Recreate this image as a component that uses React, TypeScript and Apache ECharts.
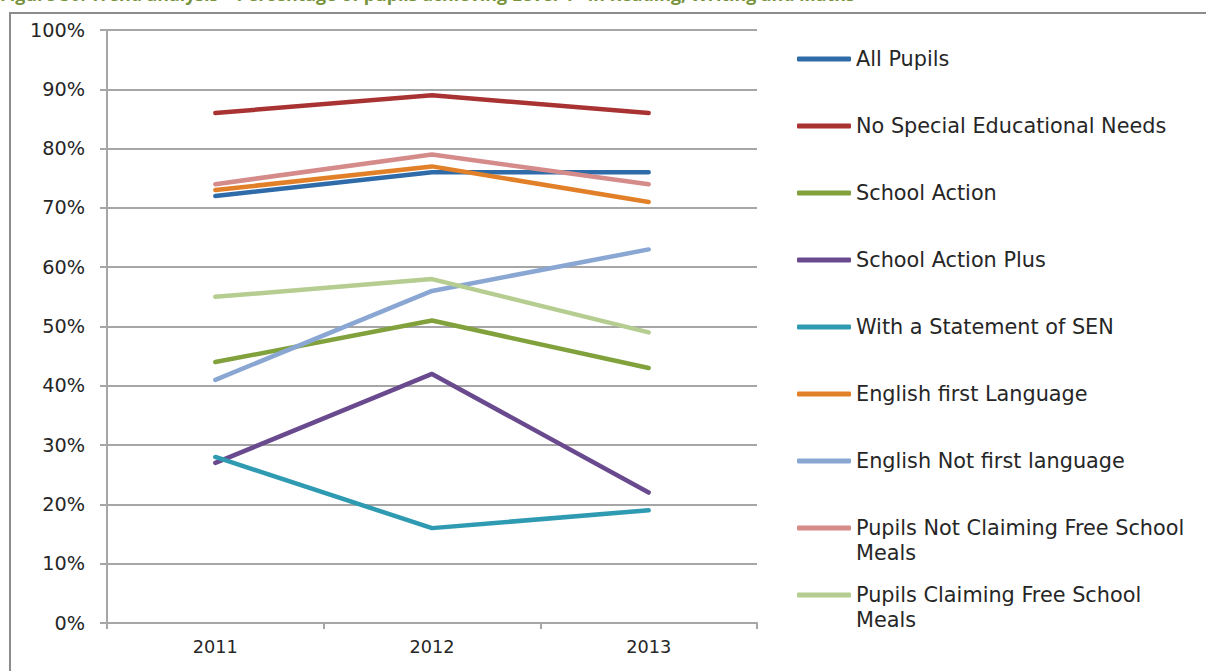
import React, { useEffect, useRef } from "react";
import * as echarts from "echarts";

const years = ["2011", "2012", "2013"];
const seriesNames = [
  "All Pupils",
  "No Special Educational Needs",
  "School Action",
  "School Action Plus",
  "With a Statement of SEN",
  "English first Language",
  "English Not first language",
  "Pupils Not Claiming Free School Meals",
  "Pupils Claiming Free School Meals",
];
const allPupils = [72, 76, 76];
const noSEN = [86, 89, 86];
const schoolAction = [44, 51, 43];
const schoolActionPlus = [27, 42, 22];
const statementSEN = [28, 16, 19];
const englishFirst = [73, 77, 71];
const englishNotFirst = [41, 56, 63];
const notFSM = [74, 79, 74];
const fsm = [55, 58, 49];
const yTicks = [0, 10, 20, 30, 40, 50, 60, 70, 80, 90, 100];

const seriesValues = [
  allPupils,
  noSEN,
  schoolAction,
  schoolActionPlus,
  statementSEN,
  englishFirst,
  englishNotFirst,
  notFSM,
  fsm,
];
const colors = [
  "#2F6BA8",
  "#A93333",
  "#80A13B",
  "#6A4A8E",
  "#2F9BB2",
  "#E2802A",
  "#8AA7D3",
  "#D48B8A",
  "#B6CD91",
];

const FONT = "'DejaVu Sans', sans-serif";

export default function App() {
  const ref = useRef<HTMLDivElement>(null);
  useEffect(() => {
    if (!ref.current) return;
    const chart = echarts.init(ref.current, undefined, { renderer: "svg" });

    const legendCenters = [59, 126, 193, 260, 327, 394, 461, 528, 595];
    const legends = seriesNames.map((name, i) => {
      const twoLine = name.startsWith("Pupils");
      return {
        show: true,
        orient: "vertical",
        left: 797,
        top: twoLine ? legendCenters[i] - 37.5 : legendCenters[i] - 12.5,
        padding: 0,
        icon: "roundRect",
        itemWidth: 54,
        itemHeight: 5,
        itemGap: 0,
        selectedMode: false,
        data: [name],
        formatter: (n: string) =>
          n.startsWith("Pupils") ? "\n" + n.replace(" Meals", "\nMeals") : n,
        textStyle: {
          fontFamily: FONT,
          fontSize: 20.8,
          lineHeight: 25,
          color: "#262626",
        },
      };
    });

    chart.setOption({
      animation: false,
      backgroundColor: "#ffffff",
      textStyle: { fontFamily: FONT },
      grid: { left: 107, top: 30, right: 449, bottom: 48, containLabel: false },
      legend: legends,
      xAxis: {
        type: "category",
        data: years,
        boundaryGap: true,
        axisLine: { show: true, lineStyle: { color: "#a6a6a6", width: 2 } },
        axisTick: { show: true, length: 6, lineStyle: { color: "#a6a6a6", width: 2 } },
        axisLabel: { fontFamily: FONT, fontSize: 17.7, color: "#262626", margin: 15 },
      },
      yAxis: {
        type: "value",
        min: yTicks[0],
        max: yTicks[yTicks.length - 1],
        interval: 10,
        axisLine: { show: true, lineStyle: { color: "#a6a6a6", width: 2 } },
        axisTick: { show: true, length: 7, lineStyle: { color: "#a6a6a6", width: 2 } },
        axisLabel: {
          fontFamily: FONT,
          fontSize: 19.3,
          color: "#262626",
          margin: 22,
          formatter: "{value}%",
        },
        splitLine: { show: true, lineStyle: { color: "#a6a6a6", width: 2 } },
      },
      series: seriesNames.map((name, i) => ({
        name,
        type: "line",
        data: seriesValues[i],
        symbol: "none",
        color: colors[i],
        lineStyle: { width: 4.5, color: colors[i], cap: "round", join: "round" },
        emphasis: { disabled: true },
      })),
      graphic: [
        {
          type: "rect",
          shape: { x: 10, y: 13, width: 1400, height: 800 },
          style: { fill: "none", stroke: "#8c8c8c", lineWidth: 2 },
          silent: true,
        },
        {
          type: "text",
          x: 0,
          y: -15,
          style: {
            text: "Figure 30: Trend analysis \u2013 Percentage of pupils achieving Level 4+ in Reading, Writing and Maths",
            fontFamily: "'Open Sans', sans-serif",
            fontSize: 17.8,
            fontWeight: "bold",
            fill: "#77933C",
          },
          silent: true,
        },
      ],
    });
    return () => chart.dispose();
  }, []);
  return (
    <div
      ref={ref}
      style={{ position: "absolute", left: 0, top: 0, width: 1206, height: 671 }}
    />
  );
}
